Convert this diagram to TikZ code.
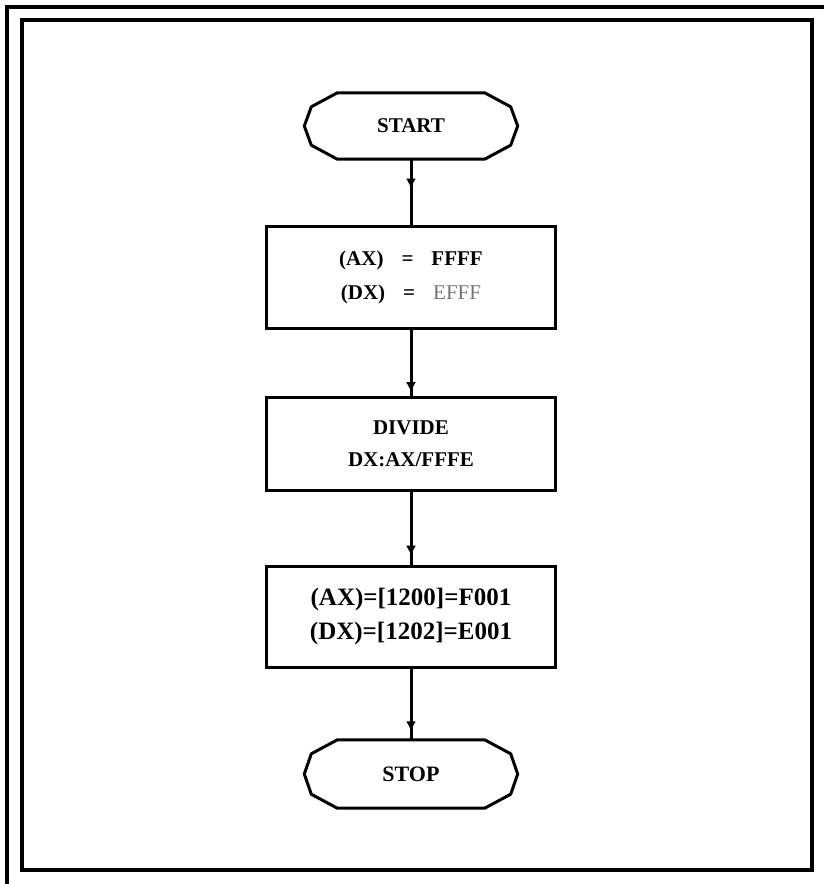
\documentclass[tikz,border=0pt]{standalone}
\usepackage{fontspec}
\setmainfont{Liberation Serif}
\usetikzlibrary{decorations.markings,arrows.meta}
\begin{document}
\begin{tikzpicture}[x=1pt,y=-1pt,
  frame/.style={draw, line width=3.2pt},
  box/.style={draw, line width=3pt, minimum width=289pt, align=center, inner sep=0pt},
  term/.style={minimum width=213pt, minimum height=66pt, inner sep=0pt, font=\bfseries\fontsize{21}{24}\selectfont},
  termline/.style={line width=3pt, line join=round},
  flow/.style={line width=3pt, postaction={decorate},
    decoration={markings, mark=at position #1 with {\arrow{Latex[length=10pt,width=10pt]}}}}]
\useasboundingbox (0,0) rectangle (823,884);
% frames
\draw[frame] (7,7) rectangle (840,900);
\draw[frame] (22,20) rectangle (812,870);
% nodes
\node[term] (start) at (411,126) {START};
\draw[termline] ([xshift=33pt]start.north west) -- ([xshift=-33pt]start.north east)
  -- ([xshift=-7pt,yshift=-14pt]start.north east) -- (start.east)
  -- ([xshift=-7pt,yshift=14pt]start.south east) -- ([xshift=-33pt]start.south east)
  -- ([xshift=33pt]start.south west) -- ([xshift=7pt,yshift=14pt]start.south west)
  -- (start.west) -- ([xshift=7pt,yshift=-14pt]start.north west) -- cycle;
\node[box, minimum height=102pt, font=\bfseries\fontsize{21}{34}\selectfont] (b1) at (411,277)
  {(AX)\hspace{18pt}=\hspace{18pt}FFFF\\(DX)\hspace{18pt}=\hspace{18pt}{\mdseries\color{black!55}EFFF}};
\node[box, minimum height=93pt, font=\bfseries\fontsize{21}{32}\selectfont] (b2) at (411,443.5)
  {DIVIDE\\DX:AX/FFFE};
\node[box, minimum height=101pt, font=\bfseries\fontsize{25}{34}\selectfont] (b3) at (411,616.5)
  {(AX)=[1200]=F001\\(DX)=[1202]=E001};
\node[term, minimum height=68pt, font=\bfseries\fontsize{22}{24}\selectfont] (stop) at (411,774) {STOP};
\draw[termline] ([xshift=33pt]stop.north west) -- ([xshift=-33pt]stop.north east)
  -- ([xshift=-7pt,yshift=-14pt]stop.north east) -- (stop.east)
  -- ([xshift=-7pt,yshift=14pt]stop.south east) -- ([xshift=-33pt]stop.south east)
  -- ([xshift=33pt]stop.south west) -- ([xshift=7pt,yshift=14pt]stop.south west)
  -- (stop.west) -- ([xshift=7pt,yshift=-14pt]stop.north west) -- cycle;
% connectors
\draw[flow=0.45] (start.south) -- (b1.north);
\draw[flow=0.95] (b1.south) -- (b2.north);
\draw[flow=0.88] (b2.south) -- (b3.north);
\draw[flow=0.88] (b3.south) -- (stop.north);
\end{tikzpicture}
\end{document}
